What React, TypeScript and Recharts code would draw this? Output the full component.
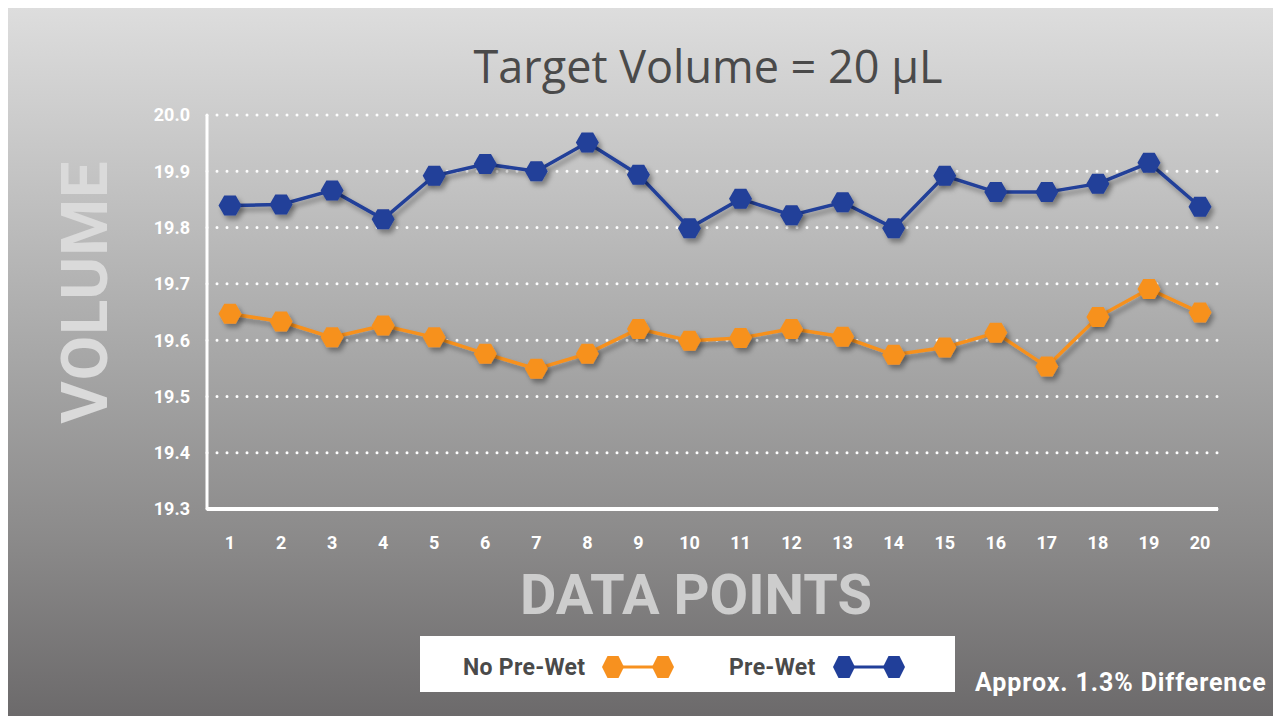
import React from 'react';
import { LineChart, Line, XAxis, YAxis, CartesianGrid, Legend } from 'recharts';

const dataPoints = ['1','2','3','4','5','6','7','8','9','10','11','12','13','14','15','16','17','18','19','20'];
const preWet = [19.839, 19.841, 19.866, 19.815, 19.892, 19.913, 19.900, 19.951, 19.894, 19.799, 19.851, 19.822, 19.845, 19.799, 19.892, 19.863, 19.863, 19.878, 19.915, 19.837];
const noPreWet = [19.647, 19.633, 19.605, 19.626, 19.605, 19.576, 19.549, 19.576, 19.620, 19.599, 19.604, 19.620, 19.606, 19.574, 19.587, 19.613, 19.553, 19.641, 19.691, 19.649];
const yTicks = [19.3, 19.4, 19.5, 19.6, 19.7, 19.8, 19.9, 20.0];

const BLUE = '#213f99';
const ORANGE = '#f7911f';

const data = dataPoints.map((p, i) => ({ point: p, preWet: preWet[i], noPreWet: noPreWet[i] }));

const hexPoints = (cx: number, cy: number, w: number, h: number) => {
  const hw = w / 2, hh = h / 2, q = w / 4;
  return `${cx - hw},${cy} ${cx - q},${cy - hh} ${cx + q},${cy - hh} ${cx + hw},${cy} ${cx + q},${cy + hh} ${cx - q},${cy + hh}`;
};

const makeDot = (color: string) => (props: any) => {
  const { cx, cy, index } = props;
  if (cx == null || cy == null) return <g key={index} />;
  return <polygon key={index} points={hexPoints(cx, cy, 23, 20)} fill={color} filter="url(#dropShadow)" />;
};

const LegendSymbol = ({ color }: { color: string }) => (
  <svg width={72} height={24} style={{ display: 'block' }}>
    <line x1={11} y1={12} x2={61} y2={12} stroke={color} strokeWidth={3} />
    <polygon points={hexPoints(11, 12, 22, 22)} fill={color} />
    <polygon points={hexPoints(61, 12, 22, 22)} fill={color} />
  </svg>
);

const renderLegend = () => (
  <div style={{ width: 535, height: 56, background: '#ffffff', position: 'relative', fontFamily: 'Roboto, sans-serif', fontWeight: 700, fontSize: 23, color: '#4a4a4a', lineHeight: '28px' }}>
    <div style={{ position: 'absolute', left: 43, top: 18, letterSpacing: 0.3 }}>No Pre-Wet</div>
    <div style={{ position: 'absolute', left: 182, top: 19 }}><LegendSymbol color={ORANGE} /></div>
    <div style={{ position: 'absolute', left: 309, top: 18, letterSpacing: 0.3 }}>Pre-Wet</div>
    <div style={{ position: 'absolute', left: 413, top: 19 }}><LegendSymbol color={BLUE} /></div>
  </div>
);

export default function App() {
  const W = 1273, H = 708;
  return (
    <div style={{ position: 'relative', width: W, height: H, background: 'linear-gradient(to bottom, #dddddd 0%, #c2c2c2 25%, #a6a6a6 50%, #8b8a8a 75%, #6c6a6b 100%)', overflow: 'hidden' }}>
      <svg width={0} height={0} style={{ position: 'absolute' }}>
        <defs>
          <filter id="dropShadow" x="-50%" y="-50%" width="200%" height="200%">
            <feDropShadow dx={3} dy={4} stdDeviation={2.5} floodColor="#000000" floodOpacity={0.35} />
          </filter>
        </defs>
      </svg>
      <div style={{ position: 'absolute', left: 0, width: 1400, top: 34, textAlign: 'center', fontFamily: '"Open Sans", sans-serif', fontWeight: 400, fontSize: 45, color: '#4a4a4a', lineHeight: '48px' }}>
        Target Volume = 20 µL
      </div>
      <div style={{ position: 'absolute', left: 77 - 150, top: 284 - 40, width: 300, height: 80, textAlign: 'center', transform: 'rotate(-90deg)', fontFamily: 'Roboto, sans-serif', fontWeight: 700, fontSize: 65, lineHeight: '80px', color: '#dadada', letterSpacing: 1 }}>
        VOLUME
      </div>
      <div style={{ position: 'absolute', left: 688 - 300, top: 587 - 40, width: 600, height: 80, textAlign: 'center', fontFamily: 'Roboto, sans-serif', fontWeight: 700, fontSize: 56, lineHeight: '80px', color: '#cdcdcd' }}>
        DATA POINTS
      </div>
      <div style={{ position: 'absolute', left: 967, top: 660, fontFamily: 'Roboto, sans-serif', fontWeight: 700, fontSize: 25, color: '#ffffff', letterSpacing: 0.9 }}>
        Approx. 1.3% Difference
      </div>
      <div style={{ position: 'absolute', left: 0, top: 0 }}>
        <LineChart width={W} height={H} data={data} margin={{ top: 107, right: 63, bottom: 101, left: 0 }}>
          <CartesianGrid horizontal vertical={false} stroke="#ffffff" strokeWidth={3} strokeDasharray="0 10" strokeLinecap="round" />
          <XAxis dataKey="point" type="category" padding={{ left: 23, right: 18 }} height={50}
            axisLine={{ stroke: '#ffffff', strokeWidth: 4 }} tickLine={false} tickMargin={21}
            tick={{ fill: '#ffffff', fontFamily: 'Roboto, sans-serif', fontWeight: 700, fontSize: 18 }} interval={0} />
          <YAxis type="number" domain={[19.3, 20.0]} ticks={yTicks} width={199} allowDataOverflow
            axisLine={{ stroke: '#ffffff', strokeWidth: 3 }} tickLine={false} tickSize={0} tickMargin={17}
            tickFormatter={(v: number) => v.toFixed(1)}
            tick={{ fill: '#ffffff', fontFamily: 'Roboto, sans-serif', fontWeight: 700, fontSize: 18 }} />
          <Legend content={renderLegend} wrapperStyle={{ position: 'absolute', left: 412, top: 628, width: 535, height: 56 }} />
          <Line type="linear" dataKey="noPreWet" name="No Pre-Wet" stroke={ORANGE} strokeWidth={3.5} dot={makeDot(ORANGE)} activeDot={false} isAnimationActive={false} style={{ filter: 'url(#dropShadow)' }} />
          <Line type="linear" dataKey="preWet" name="Pre-Wet" stroke={BLUE} strokeWidth={3.5} dot={makeDot(BLUE)} activeDot={false} isAnimationActive={false} style={{ filter: 'url(#dropShadow)' }} />
        </LineChart>
      </div>
    </div>
  );
}
